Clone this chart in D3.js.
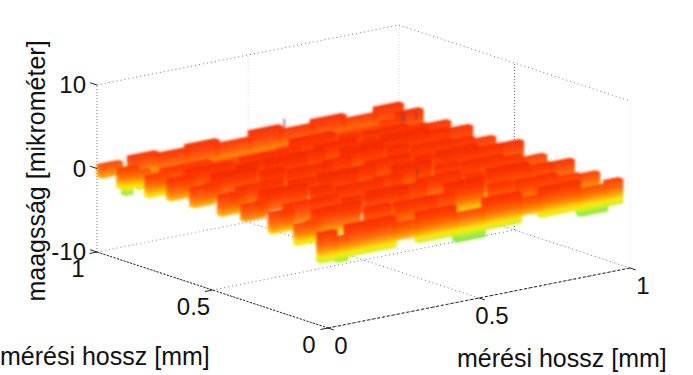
<!DOCTYPE html>
<html>
<head>
<meta charset="utf-8">
<script src="https://d3js.org/d3.v7.min.js"></script>
<style>
  html, body { margin: 0; padding: 0; background: #fff; }
  svg { display: block; }
  text { font-family: "Liberation Sans", Arial, sans-serif; fill: #111; }
</style>
</head>
<body>
<svg id="viz" width="693" height="375"></svg>
<script>
'use strict'

// tick labels
const xyTicks = [0, 0.5, 1]
const zTicks = [-10, 0, 10]

// the ridges, back row first: y position of each row
const rowY = [0.98, 0.895, 0.775, 0.68, 0.58, 0.46, 0.36, 0.24, 0.13, 0.03]

// pieces of neighbouring columns are shifted in y, like bricks
const pieceShift = [0, 0.025, 0.055, 0.025, 0, 0.025, 0.055, 0.025, 0, 0, 0]

// x limits of the ridge pieces in each row
const rowBreaks = [
  [0, 0.07, 0.10, 0.19, 0.29, 0.39, 0.50, 0.60, 0.705, 0.81, 0.914, 1],
  [0, 0.015, 0.04, 0.06, 0.085, 0.10, 0.26, 0.32, 0.47, 0.53, 0.67, 0.72, 0.87, 0.92, 1],
  [0, 0.06, 0.09, 0.25, 0.31, 0.46, 0.52, 0.66, 0.72, 0.86, 0.93, 1],
  [0, 0.07, 0.10, 0.24, 0.32, 0.45, 0.53, 0.66, 0.71, 0.85, 0.92, 1],
  [0, 0.07, 0.11, 0.25, 0.32, 0.46, 0.54, 0.67, 0.73, 0.86, 0.93, 1],
  [0, 0.06, 0.10, 0.25, 0.33, 0.45, 0.53, 0.67, 0.72, 0.85, 0.93, 1],
  [0, 0.07, 0.10, 0.25, 0.31, 0.46, 0.54, 0.66, 0.73, 0.86, 0.92, 1],
  [0, 0.07, 0.09, 0.26, 0.32, 0.45, 0.53, 0.67, 0.72, 0.85, 0.93, 1],
  [0, 0.06, 0.10, 0.25, 0.33, 0.46, 0.54, 0.66, 0.73, 0.86, 0.94, 1],
  [0, 0.055, 0.09, 0.25, 0.325, 0.45, 0.545, 0.665, 0.73, 0.86, 0.95, 1]
]

// height of the top of each piece (micrometres)
const rowTop = [
  [0.5, -0.8, 0.8, 0.43, 0.8, 0.2, 0.95, 0.35, 0.8, 0.15, 0.8],
  [0.8, 0.8, 0.8, 0.1, 0.1, -0.6, -0.6, -0.6, -0.6, -0.5, -0.4, -0.2, 0.2, 0.9],
  [1.0, 0.5, 0.7, 0.4, 0.9, 0.6, 1.1, 0.8, 1.1, 0.7, 0.55],
  [1.5, 1.15, 1.4, 1.2, 1.6, 1.2, 1.2, 1.0, 1.6, 1.1, 0.85],
  [1.4, 1.2, 1.7, 1.3, 1.2, 1.1, 1.7, 1.2, 1.1, 0.9, 0.45],
  [1.6, 1.1, 1.3, 1.2, 1.7, 1.3, 1.3, 1.2, 1.6, 1.1, 1.05],
  [1.3, 1.1, 1.7, 1.3, 1.2, 1.1, 1.6, 1.1, 1.2, 0.8, 0.3],
  [1.5, 1.1, 1.3, 1.1, 1.7, 1.2, 1.2, 1.0, 1.5, 0.9, 0.8],
  [1.1, 0.85, 1.6, 1.1, 1.3, 0.9, 1.6, 0.9, 1.1, 0.5, 0.3],
  [1.0, 0.1, 1.3, 0.3, 1.1, 0.1, 1.2, 0.3, 1.15, 0.0, 0.4]
]

// height of the lower end of each piece
const rowFoot = [
  [-1.0, -2.0, -2.6, -2.6, -2.6, -2.6, -2.6, -2.6, -2.6, -2.6, -2.6],
  [-1.5, -2.4, -1.5, -2.0, -1.4, -1.6, -2.6, -2.8, -2.8, -2.8, -2.8, -2.8, -2.8, -2.8],
  [-1.5, -1.5, -1.6, -2.0, -2.8, -2.8, -2.8, -2.8, -2.8, -2.8, -2.8],
  [-1.0, -1.0, -1.0, -1.2, -2.4, -2.6, -2.8, -2.8, -2.8, -2.8, -2.8],
  [-0.9, -0.9, -0.9, -1.0, -1.4, -2.4, -2.6, -2.8, -2.8, -2.8, -2.8],
  [-0.8, -0.8, -0.8, -0.9, -1.2, -1.6, -2.6, -2.8, -2.8, -2.8, -2.8],
  [-0.5, -0.5, -0.6, -0.8, -1.0, -1.4, -2.6, -2.8, -2.8, -2.8, -2.8],
  [-0.9, -0.9, -0.9, -1.0, -1.6, -2.2, -2.6, -2.8, -2.8, -2.8, -2.8],
  [-1.3, -1.4, -1.6, -1.8, -2.2, -2.4, -2.4, -2.4, -2.4, -2.4, -2.4],
  [-2.5, -2.8, -2.4, -1.6, -2.4, -3.2, -2.4, -1.6, -2.3, -3.1, -2.5]
]

// thin needles standing on the ridges: x, y, from z, to z
const spikeX = [0.605, 0.917, 0.927, 0.965, 0.555]
const spikeY = [0.98, 0.88, 0.88, 0.88, 0.34]
const spikeLow = [0.6, 0.0, 0.0, -0.1, 1.0]
const spikeHigh = [1.8, 1.0, 1.2, 0.9, 2.0]

// colour stops
const colourLevels = [-3.3, -2.7, -2.2, -1.8, -1.2, -0.5, 0.5, 1.5]
const colourValues = ['#78e646', '#a0eb32', '#e1f014', '#ffe100', '#ff9b00', '#ff6400', '#ff3c00', '#f52d00']

const svg = d3.select('#viz')

svg.append('defs').append('filter')
  .attr('id', 'soft')
  .attr('x', '-5%').attr('y', '-5%').attr('width', '110%').attr('height', '110%')
  .append('feGaussianBlur')
  .attr('stdDeviation', 0.9)

// scales: every axis adds its own screen offset, the view is orthographic
const xToPx = d3.scaleLinear().domain([0, 1]).range([0, 302])
const yToPx = d3.scaleLinear().domain([0, 1]).range([0, -231])
const xToPy = d3.scaleLinear().domain([0, 1]).range([0, -60])
const yToPy = d3.scaleLinear().domain([0, 1]).range([0, -76])
const zToPy = d3.scaleLinear().domain([-10, 10]).range([0, -167])
const colour = d3.scaleLinear().domain(colourLevels).range(colourValues).clamp(true)

function project (x, y, z) {
  return [328 + xToPx(x) + yToPx(y), 328 + xToPy(x) + yToPy(y) + zToPy(z)]
}

function polygon (points) {
  return 'M' + points.map(p => p.join(',')).join('L') + 'Z'
}

function colourAt (x, y, z) {
  const leftEdge = (x < 0.25 && y > 0.1) ? (0.25 - x) * 4 : 0
  return colour(z + 0.5 * y - leftEdge)
}

/**
 * Draws a straight line between two points of the box.
 */
function boxLine (g, a, b, stroke, dash, width) {
  const p = project(a[0], a[1], a[2])
  const q = project(b[0], b[1], b[2])
  g.append('line')
    .attr('x1', p[0]).attr('y1', p[1])
    .attr('x2', q[0]).attr('y2', q[1])
    .attr('stroke', stroke)
    .attr('stroke-width', width || 1)
    .attr('stroke-dasharray', dash)
}

function drawGrid (g) {
  const light = '#d8d8d8'
  const dark = '#777'
  xyTicks.forEach(t => {
    // floor
    boxLine(g, [t, 0, -10], [t, 1, -10], dark, '1,3')
    boxLine(g, [0, t, -10], [1, t, -10], dark, '1,3')
    // back walls
    boxLine(g, [t, 1, -10], [t, 1, 10], t === 0 ? dark : light, '1,2')
    if (t < 1) boxLine(g, [1, t, -10], [1, t, 10], t === 0 ? '#e8e8e8' : dark, '1,2')
  })
  zTicks.forEach(z => {
    boxLine(g, [0, 1, z], [1, 1, z], z === 10 ? dark : light, '1,3')
    boxLine(g, [1, 1, z], [1, 0, z], z === 10 ? dark : light, '1,3')
  })
}

function drawSurface (g) {
  const wall = 0.02
  const band = 0.15
  const facets = []

  function addFace (a, b, y0, y1, top, foot) {
    // one vertical face cut in thin level bands, so the colour follows the height
    for (let z = top; z > foot; z -= band) {
      const low = Math.max(z - band, foot)
      facets.push({
        d: polygon([project(a, y0, z), project(b, y1, z), project(b, y1, low), project(a, y0, low)]),
        fill: colourAt((a + b) / 2, y0, (z + low) / 2)
      })
    }
  }

  rowY.forEach((rowPos, r) => {
    const breaks = rowBreaks[r]
    // right to left, the left pieces are closer
    for (let i = breaks.length - 2; i >= 0; i--) {
      const shift = (r >= 2 && r <= 8) ? pieceShift[i] : 0
      const y = rowPos + shift
      const top = rowTop[r][i]
      const foot = rowFoot[r][i]
      addFace(breaks[i], breaks[i], y + wall, y, top, foot)
      facets.push({
        d: polygon([project(breaks[i], y, top), project(breaks[i + 1], y, top),
          project(breaks[i + 1], y + wall, top), project(breaks[i], y + wall, top)]),
        fill: colourAt((breaks[i] + breaks[i + 1]) / 2, y, top)
      })
      addFace(breaks[i], breaks[i + 1], y, y, top, foot)
    }
  })

  g.attr('filter', 'url(#soft)')
    .selectAll('path')
    .data(facets)
    .join('path')
    .attr('d', d => d.d)
    .attr('fill', d => d.fill)
    .attr('stroke', d => d.fill)
    .attr('stroke-width', 0.5)

  g.selectAll('line')
    .data(spikeX)
    .join('line')
    .attr('x1', (d, i) => project(d, spikeY[i], spikeLow[i])[0])
    .attr('y1', (d, i) => project(d, spikeY[i], spikeLow[i])[1])
    .attr('x2', (d, i) => project(d, spikeY[i], spikeHigh[i])[0])
    .attr('y2', (d, i) => project(d, spikeY[i], spikeHigh[i])[1])
    .attr('stroke', '#8a3a30')
    .attr('stroke-width', 1.2)
}

function drawAxes (g) {
  boxLine(g, [0, 1, -10], [0, 0, -10], '#222', '2,1.5')
  boxLine(g, [0, 0, -10], [1, 0, -10], '#222', '3,2')
  xyTicks.forEach(t => {
    boxLine(g, [t, 0, -10], [t, -0.025, -10], '#222', null)
    boxLine(g, [0, t, -10], [-0.025, t, -10], '#222', null)
  })
  zTicks.forEach(z => boxLine(g, [0, 1, z], [0, 1.03, z], '#222', null))
}

function drawLabels (g) {
  const tickSize = 24
  g.selectAll('text.z').data(zTicks).join('text')
    .attr('class', 'z')
    .attr('x', 86)
    .attr('y', d => project(0, 1, d)[1] + 8)
    .attr('text-anchor', 'end')
    .attr('font-size', tickSize)
    .text(d => d)

  g.selectAll('text.left').data(xyTicks).join('text')
    .attr('class', 'left')
    .attr('x', d => project(0, d, -10)[0] - 19)
    .attr('y', d => project(0, d, -10)[1] + 25)
    .attr('text-anchor', 'middle')
    .attr('font-size', tickSize)
    .text(d => d)

  g.selectAll('text.right').data(xyTicks).join('text')
    .attr('class', 'right')
    .attr('x', d => project(d, 0, -10)[0] + 13)
    .attr('y', d => project(d, 0, -10)[1] + 26)
    .attr('text-anchor', 'middle')
    .attr('font-size', tickSize)
    .text(d => d)

  g.append('text').attr('x', 0).attr('y', 365).attr('font-size', 25).text('mérési hossz [mm]')
  g.append('text').attr('x', 457).attr('y', 367).attr('font-size', 25).text('mérési hossz [mm]')
  g.append('text')
    .attr('transform', 'translate(45,171) rotate(-90)')
    .attr('text-anchor', 'middle')
    .attr('font-size', 25)
    .text('maagsság [mikrométer]')
}

drawGrid(svg.append('g').attr('id', 'grid'))
drawSurface(svg.append('g').attr('id', 'surface'))
drawAxes(svg.append('g').attr('id', 'axes'))
drawLabels(svg.append('g').attr('id', 'labels'))
</script>
</body>
</html>
